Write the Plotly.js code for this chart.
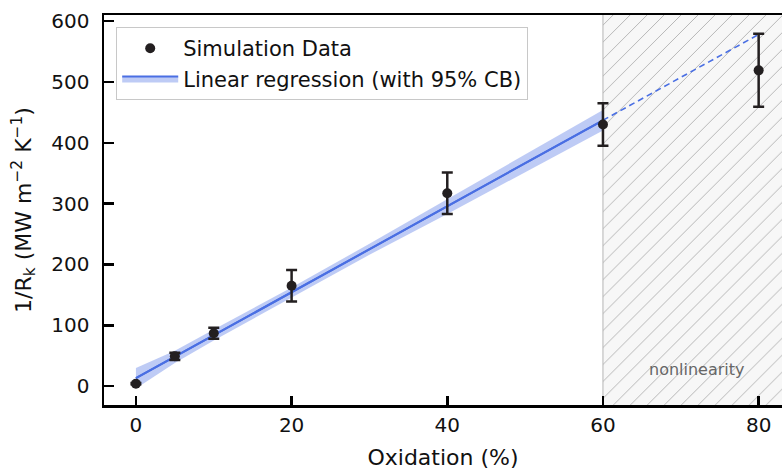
<!DOCTYPE html>
<html>
<head>
<meta charset="utf-8">
<script src="https://cdn.plot.ly/plotly-3.0.1.min.js"></script>
<style>html,body{margin:0;padding:0;background:#fff;}#chart{width:782px;height:470px;}</style>
</head>
<body>
<div id="chart"></div>
<script>
// Simulation data
const oxidation = [0, 5, 10, 20, 40, 60, 80];
const invRk = [4, 49, 87, 165, 317, 430, 519];
const invRkErr = [1, 6, 9, 26, 34, 35, 60];

// Linear regression (fitted range) and extrapolation
const regX = [0, 60];
const regY = [13, 437];
const extX = [60, 80];
const extY = [437, 578];

// 95% confidence band
const bandX = [0, 5, 10, 20, 30, 40, 50, 60];
const bandUpper = [30, 58, 93, 162, 234, 307, 380, 454];
const bandLower = [-4, 38, 75, 146, 216, 283, 352, 420];

// Nonlinearity region
const nonlinX = [60, 95, 95, 60, 60];
const nonlinY = [-60, -60, 700, 700, -60];

const FONT = 'DejaVu Sans, sans-serif';
const blue = '#4a6fe3';
const bandColor = 'rgba(74,111,227,0.36)';

const traces = [
  {x: nonlinX, y: nonlinY, mode: 'lines', fill: 'toself', fillcolor: '#f7f7f7',
   fillpattern: {shape: '/', bgcolor: '#f7f7f7', fgcolor: '#b4b4b4', size: 12, solidity: 0.08},
   line: {color: '#b4b4b4', width: 1}, showlegend: false, hoverinfo: 'skip'},
  {x: bandX, y: bandLower, mode: 'lines', line: {width: 0, color: bandColor}, showlegend: false, hoverinfo: 'skip'},
  {x: regX, y: regY, mode: 'lines', fill: 'tonexty', fillcolor: bandColor,
   line: {color: blue, width: 2}, name: 'Linear regression (with 95% CB)'},
  {x: bandX, y: bandUpper, mode: 'lines', fill: 'tonexty', fillcolor: bandColor,
   line: {width: 0, color: bandColor}, showlegend: false, hoverinfo: 'skip'},
  {x: regX, y: regY, mode: 'lines', line: {color: blue, width: 2}, showlegend: false},
  {x: extX, y: extY, mode: 'lines', line: {color: blue, width: 1.6, dash: '6px,4px'}, showlegend: false},
  {x: oxidation, y: invRk, mode: 'markers', name: 'Simulation Data',
   marker: {color: '#231f20', size: 10},
   error_y: {type: 'data', array: invRkErr, visible: true, color: '#231f20', thickness: 2.5, width: 5.5}}
];

const layout = {
  width: 782, height: 470,
  margin: {l: 104, r: 0, t: 15, b: 65},
  paper_bgcolor: '#fff', plot_bgcolor: '#fff',
  font: {family: FONT, size: 20, color: '#111'},
  showlegend: true,
  legend: {x: 0.018, y: 0.969, xanchor: 'left', yanchor: 'top', traceorder: 'reversed',
    bgcolor: 'rgba(255,255,255,0.9)', bordercolor: '#c8c8c8', borderwidth: 1,
    font: {family: FONT, size: 21, color: '#111'}, itemwidth: 56, tracegroupgap: 0},
  xaxis: {
    range: [-4.1, 83], tickvals: [0, 20, 40, 60, 80], ticktext: ['0', '20', '40', '60', '80'],
    showgrid: false, zeroline: false, showline: true, linecolor: '#000', linewidth: 2.5, mirror: true,
    ticks: 'inside', ticklen: 9, tickwidth: 2.5, tickcolor: '#000',
    tickfont: {family: FONT, size: 20, color: '#111'},
    title: {text: 'Oxidation (%)', font: {family: FONT, size: 22, color: '#111'}, standoff: 17}
  },
  yaxis: {
    range: [-31, 610], tickvals: [0, 100, 200, 300, 400, 500, 600],
    showgrid: false, zeroline: false, showline: true, linecolor: '#000', linewidth: 2.5, mirror: false,
    ticks: 'inside', ticklen: 10, tickwidth: 2.5, tickcolor: '#000',
    tickfont: {family: FONT, size: 20, color: '#111'}, ticklabelstandoff: 8,
    title: {text: '1/R<sub>k</sub> (MW m<sup>\u22122</sup> K<sup>\u22121</sup>)',
      font: {family: FONT, size: 22, color: '#111'}, standoff: 14}
  },
  annotations: [
    {x: 72.1, y: 28, xref: 'x', yref: 'y', text: 'nonlinearity', showarrow: false,
     font: {family: FONT, size: 16, color: '#666'}}
  ]
};

Plotly.newPlot('chart', traces, layout, {displayModeBar: false, staticPlot: true});
</script>
</body>
</html>
